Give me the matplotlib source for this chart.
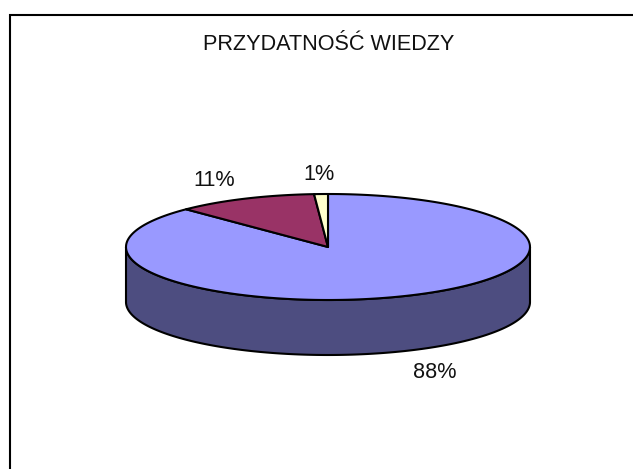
import numpy as np
import matplotlib
matplotlib.use('Agg')
import matplotlib.pyplot as plt
from matplotlib.patches import Polygon

plt.rcParams['font.family'] = ['Liberation Sans', 'DejaVu Sans']

title = 'PRZYDATNOŚĆ WIEDZY'
values = [87.6, 11.3, 1.1]
labels = ['88%', '11%', '1%']
top_colors = ['#9999FF', '#993366', '#FFFFCC']
side_colors = ['#4D4D80', '#4D1A33', '#808066']
label_pos = [(435, 373), (214, 180), (319, 175)]

cx, cy = 328, 247
rx, ry = 202, 53
depth = 55

fig = plt.figure(figsize=(6.33, 4.69), dpi=100)
ax = fig.add_axes([0, 0, 1, 1])
ax.set_xlim(0, 633)
ax.set_ylim(469, 0)
ax.axis('off')

def ellipse(a):
    # a in degrees, clockwise from the top of the ellipse
    r = np.radians(a)
    return cx + rx * np.sin(r), cy - ry * np.cos(r)

edges = np.cumsum([0] + values) * 3.6

# side wall, only the front half shows
for i in range(len(values)):
    a0, a1 = max(edges[i], 90), min(edges[i + 1], 270)
    if a1 <= a0:
        continue
    t = np.linspace(a0, a1, 200)
    x, y = ellipse(t)
    pts = np.r_[np.c_[x, y], np.c_[x[::-1], y[::-1] + depth]]
    ax.add_patch(Polygon(pts, closed=True, fc=side_colors[i], ec='black', lw=1.5, joinstyle='round'))

# top face
for i in range(len(values)):
    t = np.linspace(edges[i], edges[i + 1], 200)
    x, y = ellipse(t)
    pts = np.r_[[(cx, cy)], np.c_[x, y]]
    ax.add_patch(Polygon(pts, closed=True, fc=top_colors[i], ec='black', lw=1.5, joinstyle='round'))

for lab, (x, y) in zip(labels, label_pos):
    ax.text(x, y, lab, fontsize=15.6, ha='center', va='center', color='#111111')
ax.text(329, 45, title, fontsize=15.6, ha='center', va='center', color='#111111')

# chart frame, cut off at the right and bottom of the picture
ax.plot([9.5, 9.5, 633], [469, 15.5, 15.5], color='black', lw=1.5, solid_joinstyle='miter')

fig.savefig('out.png', dpi=100)
plt.close()
